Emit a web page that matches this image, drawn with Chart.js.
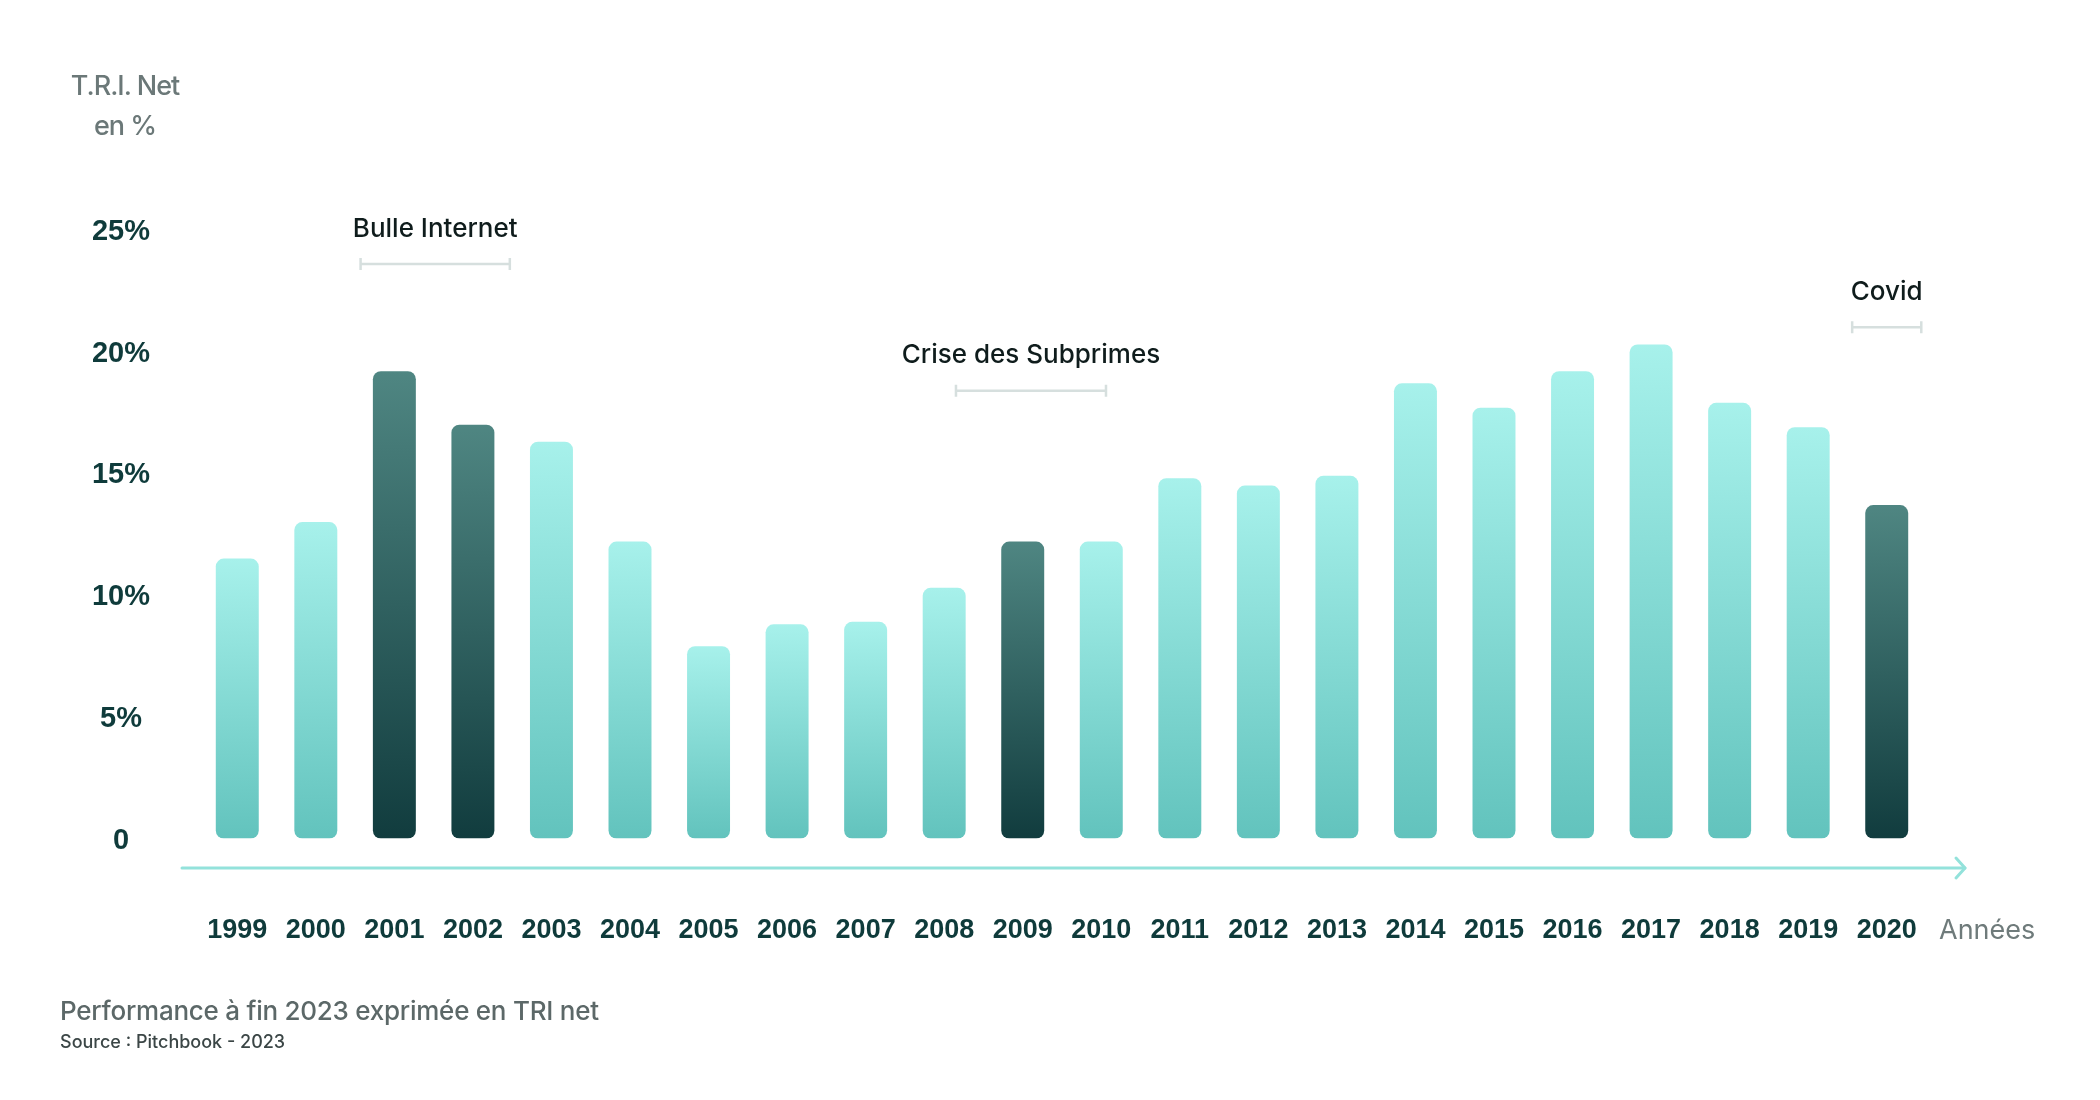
<!DOCTYPE html>
<html lang="fr">
<head>
<meta charset="utf-8">
<script src="https://cdn.jsdelivr.net/npm/chart.js@4.4.1/dist/chart.umd.min.js"></script>
<style>
  html, body { margin: 0; padding: 0; background: #fff; }
  #wrap { position: relative; width: 2100px; height: 1100px; font-family: Inter, "Liberation Sans", sans-serif; }
  canvas { position: absolute; left: 0; top: 0; }
  .ytitle { position: absolute; left: 60px; top: 66px; width: 130px; text-align: center; color: #6b7878; font-size: 27px; font-weight: 500; line-height: 40px; letter-spacing: -1px; }
  .xtitle { position: absolute; left: 1939px; top: 913px; color: #6f7b7b; font-size: 27px; line-height: 34px; }
  .foot1 { position: absolute; left: 60px; top: 995px; color: #5c6868; font-size: 26px; font-weight: 500; line-height: 32px; letter-spacing: -0.25px; }
  .foot2 { position: absolute; left: 60px; top: 1031px; color: #3b4646; font-size: 18px; font-weight: 500; line-height: 22px; }
</style>
</head>
<body>
<div id="wrap">
  <canvas id="c" width="2100" height="1100"></canvas>
  <div class="ytitle">T.R.I. Net<br>en %</div>
  <div class="xtitle">Années</div>
  <div class="foot1">Performance à fin 2023 exprimée en TRI net</div>
  <div class="foot2">Source : Pitchbook - 2023</div>
</div>
<script>
const years = ['1999','2000','2001','2002','2003','2004','2005','2006','2007','2008','2009',
               '2010','2011','2012','2013','2014','2015','2016','2017','2018','2019','2020'];
const triNet = [11.5, 13.0, 19.2, 17.0, 16.3, 12.2, 7.9, 8.8, 8.9, 10.3, 12.2,
                12.2, 14.8, 14.5, 14.9, 18.7, 17.7, 19.2, 20.3, 17.9, 16.9, 13.7];
const highlightYears = ['2001', '2002', '2009', '2020'];
const yTicks = [0, 5, 10, 15, 20, 25];

// periods of crisis, spans given in category index units
const eventLabels = ['Bulle Internet', 'Crise des Subprimes', 'Covid'];
const eventFrom = [1.57, 9.15, 20.56];
const eventTo = [3.47, 11.06, 21.44];
const eventLevel = [23.6, 18.4, 21.0];

function barFill(ctx) {
  const dark = highlightYears.includes(years[ctx.dataIndex]);
  const flat = dark ? '#2f5f5d' : '#80d8d1';
  if (ctx.type !== 'data') return flat;
  const y = ctx.chart.scales.y;
  if (!y) return flat;
  const top = y.getPixelForValue(triNet[ctx.dataIndex]);
  const base = y.getPixelForValue(0);
  if (!isFinite(top) || !isFinite(base) || top === base) return flat;
  const g = ctx.chart.ctx.createLinearGradient(0, top, 0, base);
  g.addColorStop(0, dark ? '#4f8682' : '#a7f1eb');
  g.addColorStop(1, dark ? '#113c3e' : '#62c3bd');
  return g;
}

const decor = {
  id: 'decor',
  afterDatasetsDraw(chart) {
    const { ctx, chartArea, scales: { x, y } } = chart;
    ctx.save();
    // x axis line with arrow head
    const ay = chartArea.bottom + 29.5;
    const x0 = chartArea.left - 16, x1 = chartArea.right + 39;
    ctx.strokeStyle = '#93e2db';
    ctx.lineWidth = 3;
    ctx.lineCap = 'round';
    ctx.lineJoin = 'round';
    ctx.beginPath(); ctx.moveTo(x0, ay); ctx.lineTo(x1, ay); ctx.stroke();
    ctx.beginPath(); ctx.moveTo(x1 - 9, ay - 10); ctx.lineTo(x1, ay); ctx.lineTo(x1 - 9, ay + 10); ctx.stroke();

    // crisis brackets + labels
    eventLabels.forEach((label, i) => {
      const a = x.getPixelForValue(eventFrom[i]);
      const b = x.getPixelForValue(eventTo[i]);
      const by = y.getPixelForValue(eventLevel[i]);
      ctx.strokeStyle = '#d6dfde';
      ctx.lineWidth = 2.5;
      ctx.lineCap = 'butt';
      ctx.beginPath();
      ctx.moveTo(a, by); ctx.lineTo(b, by);
      ctx.moveTo(a, by - 6); ctx.lineTo(a, by + 6);
      ctx.moveTo(b, by - 6); ctx.lineTo(b, by + 6);
      ctx.stroke();
      ctx.fillStyle = '#0f1c1c';
      ctx.font = '500 26px Inter, "Liberation Sans", sans-serif';
      ctx.textAlign = 'center';
      ctx.textBaseline = 'middle';
      ctx.fillText(label, (a + b) / 2, by - 35);
    });
    ctx.restore();
  }
};

new Chart(document.getElementById('c'), {
  type: 'bar',
  data: {
    labels: years,
    datasets: [{
      data: triNet,
      backgroundColor: barFill,
      borderRadius: 8,
      borderSkipped: false,
      barPercentage: 0.547,
      categoryPercentage: 1
    }]
  },
  options: {
    responsive: false,
    animation: false,
    layout: { padding: { top: 230, right: 174, bottom: 141.5, left: 0 } },
    plugins: { legend: { display: false }, tooltip: { enabled: false } },
    scales: {
      x: {
        grid: { display: false, drawTicks: false },
        border: { display: false },
        ticks: {
          color: '#0f3b3b',
          font: { family: '"Liberation Sans", Arial, sans-serif', size: 27, weight: 'bold' },
          padding: 76, maxRotation: 0, autoSkip: false
        },
        afterFit: s => { s.height = 120; }
      },
      y: {
        min: 0, max: 25,
        grid: { display: false, drawTicks: false },
        border: { display: false },
        afterBuildTicks: s => { s.ticks = yTicks.map(v => ({ value: v })); },
        afterFit: s => { s.width = 198; },
        ticks: {
          color: '#0f3b3b',
          font: { family: '"Liberation Sans", Arial, sans-serif', size: 29, weight: 'bold' },
          padding: 48, crossAlign: 'center', labelOffset: 2,
          callback: v => v === 0 ? '0' : v + '%'
        }
      }
    }
  },
  plugins: [decor]
});
</script>
</body>
</html>
